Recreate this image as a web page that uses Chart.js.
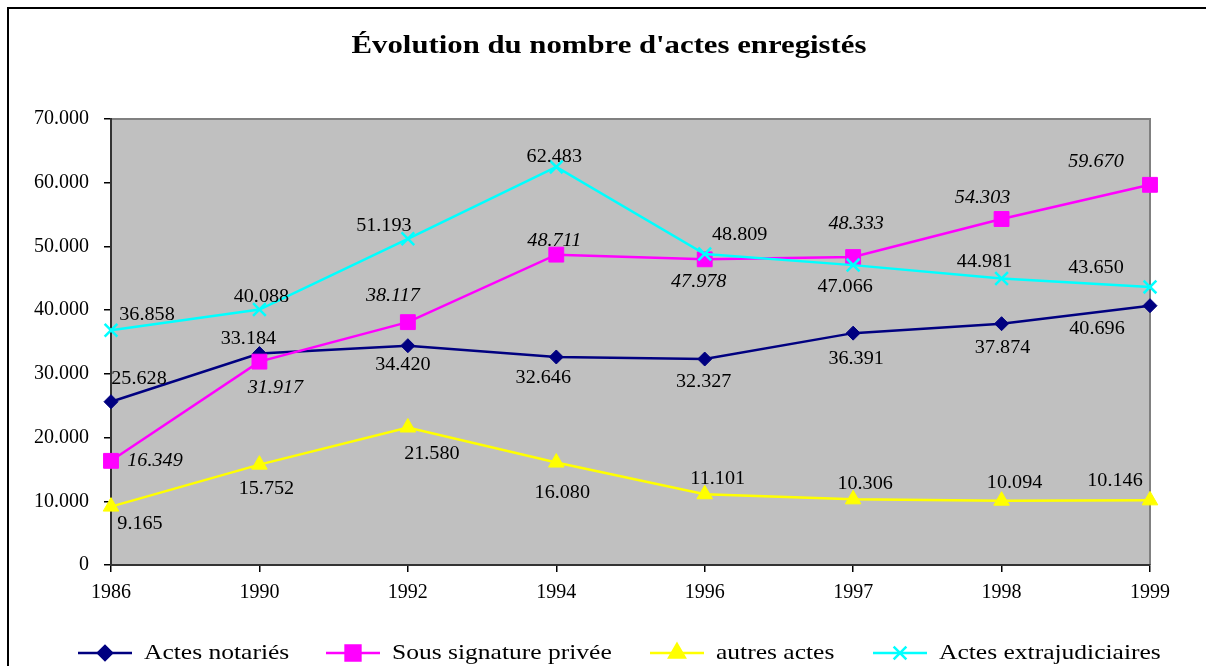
<!DOCTYPE html>
<html>
<head>
<meta charset="utf-8">
<script src="https://cdn.jsdelivr.net/npm/chart.js@4.4.1/dist/chart.umd.min.js"></script>
<style>
  html, body { margin: 0; padding: 0; background: #fff; }
</style>
</head>
<body>
<canvas id="chart" width="1206" height="666"></canvas>
<script>
// ---- data ----
const years = ['1986', '1990', '1992', '1994', '1996', '1997', '1998', '1999'];
const actesNotaries = [25628, 33184, 34420, 32646, 32327, 36391, 37874, 40696];
const sousSignature = [16349, 31917, 38117, 48711, 47978, 48333, 54303, 59670];
const autresActes = [9165, 15752, 21580, 16080, 11101, 10306, 10094, 10146];
const actesExtra = [36858, 40088, 51193, 62483, 48809, 47066, 44981, 43650];
const seriesNames = ['Actes notariés', 'Sous signature privée', 'autres actes', 'Actes extrajudiciaires'];
const yMin = 0, yMax = 70000, yStep = 10000;

// label nudges (px from the point to the label centre), style only
const labelNudge = [
    [[28, -22], [-11, -14], [-5, 20], [-13, 21], [-1, 23], [3, 26], [1, 25], [-53, 24]],
    [[44, 0], [16, 27], [-15, -26], [-2, -13], [-6, 23], [3, -33], [-19, -21], [-54, -23]],
    [[29, 18], [7, 25], [24, 27], [6, 31], [13, -15], [12, -15], [13, -17], [-35, -19]],
    [[36, -15], [2, -12], [-24, -13], [-2, -10], [35, -19], [-8, 22], [-17, -16], [-54, -19]],
];
const labelItalic = [false, true, false, false];
const legendX = [78, 326, 650, 873];

const SERIF = '"Liberation Serif", "Times New Roman", serif';
const fmt = n => String(n).replace(/\B(?=(\d{3})+(?!\d))/g, '.');

// the reference text is a bit wider than Liberation Serif, so stretch it
function wideText(ctx, text, x, y, sx, align) {
    ctx.save();
    ctx.translate(x, y);
    ctx.scale(sx, 1);
    ctx.textAlign = align;
    ctx.fillText(text, 0, 0);
    ctx.restore();
}

function ds(label, data, color, style, radius, order) {
    return {
        label, data, order,
        borderColor: color, backgroundColor: color,
        borderWidth: 2.5, tension: 0,
        pointStyle: style, pointRadius: radius, pointHoverRadius: radius,
        pointBackgroundColor: color, pointBorderColor: color,
        pointBorderWidth: style === 'crossRot' ? 2.5 : 1,
    };
}

const decor = {
    id: 'decor',
    beforeDraw(chart) {
        const { ctx, chartArea: a } = chart;
        ctx.save();
        // outer frame
        ctx.strokeStyle = '#000';
        ctx.lineWidth = 2;
        ctx.beginPath();
        ctx.moveTo(8, 666); ctx.lineTo(8, 8); ctx.lineTo(1206, 8);
        ctx.stroke();
        // plot background
        ctx.fillStyle = '#c0c0c0';
        ctx.fillRect(a.left, a.top, a.right - a.left, a.bottom - a.top);
        ctx.strokeStyle = '#808080';
        ctx.lineWidth = 2;
        ctx.beginPath();
        ctx.moveTo(a.left, a.top); ctx.lineTo(a.right, a.top); ctx.lineTo(a.right, a.bottom);
        ctx.stroke();
        // title
        ctx.fillStyle = '#000';
        ctx.font = 'bold 25px ' + SERIF;
        ctx.textBaseline = 'middle';
        wideText(ctx, "Évolution du nombre d'actes enregistés", 609, 47, 1.23, 'center');
        ctx.restore();
    },
    afterDatasetsDraw(chart) {
        const { ctx } = chart;
        ctx.save();
        ctx.fillStyle = '#000';
        ctx.textBaseline = 'middle';
        chart.data.datasets.forEach((d, i) => {
            const meta = chart.getDatasetMeta(i);
            ctx.font = (labelItalic[i] ? 'italic ' : '') + '18px ' + SERIF;
            meta.data.forEach((pt, j) => {
                const [dx, dy] = labelNudge[i][j];
                wideText(ctx, fmt(d.data[j]), pt.x + dx, pt.y + dy, 1.12, 'center');
            });
        });
        // legend
        const ly = 653;
        chart.data.datasets.forEach((d, i) => {
            const x0 = legendX[i];
            ctx.strokeStyle = d.borderColor;
            ctx.lineWidth = 2.5;
            ctx.beginPath();
            ctx.moveTo(x0, ly); ctx.lineTo(x0 + 54, ly);
            ctx.stroke();
            ctx.fillStyle = d.backgroundColor;
            Chart.helpers.drawPoint(ctx, {
                pointStyle: d.pointStyle, radius: d.pointRadius, rotation: 0,
                borderWidth: d.pointBorderWidth,
            }, x0 + 27, ly);
            ctx.fillStyle = '#000';
            ctx.font = '22px ' + SERIF;
            wideText(ctx, d.label, x0 + 66, ly, 1.16, 'left');
        });
        ctx.restore();
    },
};

new Chart(document.getElementById('chart'), {
    type: 'line',
    data: {
        labels: years,
        datasets: [
            ds(seriesNames[0], actesNotaries, '#000080', 'rectRot', 7, 3),
            ds(seriesNames[1], sousSignature, '#ff00ff', 'rect', 10.5, 2),
            ds(seriesNames[2], autresActes, '#ffff00', 'triangle', 9, 1),
            ds(seriesNames[3], actesExtra, '#00ffff', 'crossRot', 9, 0),
        ],
    },
    options: {
        responsive: false,
        animation: false,
        events: [],
        layout: { autoPadding: false, padding: { left: 0, right: 56, top: 119, bottom: 56 } },
        plugins: { legend: { display: false }, title: { display: false }, tooltip: { enabled: false } },
        scales: {
            x: {
                offset: false,
                afterFit: s => { s.height = 45; },
                grid: { drawOnChartArea: false, tickLength: 7, color: '#000', lineWidth: 1.5 },
                border: { color: '#333', width: 2 },
                ticks: { color: '#000', font: { family: SERIF, size: 20 }, padding: 9, maxRotation: 0 },
            },
            y: {
                min: yMin, max: yMax,
                afterFit: s => { s.width = 111; },
                grid: { drawOnChartArea: false, tickLength: 7, color: '#000', lineWidth: 1.5 },
                border: { color: '#333', width: 2 },
                ticks: { stepSize: yStep, color: '#000', font: { family: SERIF, size: 20 }, padding: 15,
                    callback: v => fmt(v) },
            },
        },
    },
    plugins: [decor],
});
</script>
</body>
</html>
